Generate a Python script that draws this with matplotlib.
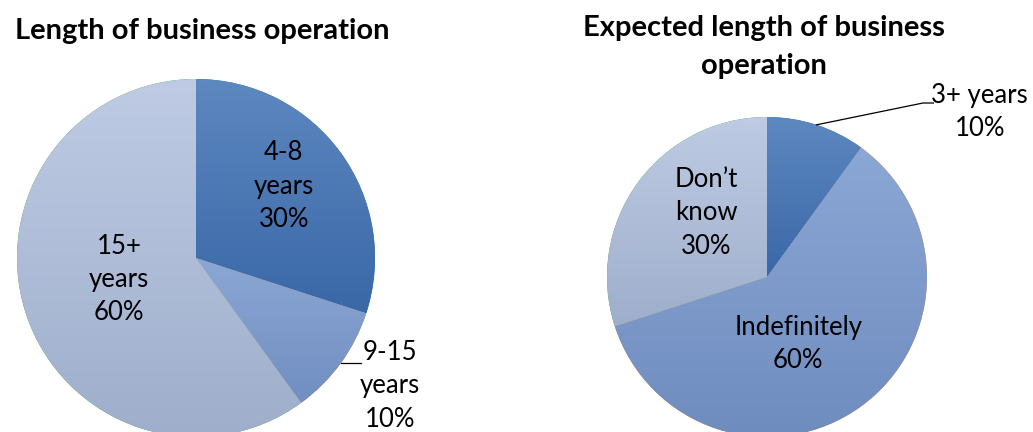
import numpy as np
import matplotlib
matplotlib.use("Agg")
import matplotlib.pyplot as plt
from matplotlib.colors import LinearSegmentedColormap

plt.rcParams['font.family'] = ['Lato', 'DejaVu Sans']

# data
left_labels = ["4-8\nyears", "9-15\nyears", "15+\nyears"]
left_vals = [30, 10, 60]
right_labels = ["3+ years", "Indefinitely", "Don’t\nknow"]
right_vals = [10, 60, 30]

left_title = "Length of business operation"
right_title = "Expected length of business\noperation"

# gradient colours (top, bottom) for each slice
left_grads = [("#5d88c0", "#3a67a7"), ("#8ba7d5", "#718ec1"), ("#bfcbe4", "#9eaecb")]
right_grads = [("#5d88c0", "#3a67a7"), ("#8ba7d5", "#6f8cbf"), ("#bfcbe4", "#9eaecb")]

W, H = 1033, 432
fig = plt.figure(figsize=(W / 100, H / 100), dpi=100)


def pie_axes(cx, cy, r):
    # pixel centre/radius -> axes rect
    return fig.add_axes([(cx - r) / W, (H - cy - r) / H, 2 * r / W, 2 * r / H])


def draw_pie(ax, vals, grads):
    wedges, _ = ax.pie(vals, startangle=90, counterclock=False, radius=1,
                       wedgeprops=dict(edgecolor='none', linewidth=0))
    for w, (c1, c2) in zip(wedges, grads):
        ext = w.get_path().get_extents()
        cmap = LinearSegmentedColormap.from_list("g", [c2, c1])
        grad = np.linspace(0, 1, 256).reshape(-1, 1)
        im = ax.imshow(grad, cmap=cmap, origin='lower', aspect='auto',
                       extent=[ext.x0, ext.x1, ext.y0, ext.y1], zorder=2,
                       interpolation='bilinear')
        im.set_clip_path(w)
    ax.set_xlim(-1, 1)
    ax.set_ylim(-1, 1)
    ax.set_aspect('equal')
    ax.axis('off')
    return wedges


def mid_point(w, r=1.0):
    a = np.deg2rad((w.theta1 + w.theta2) / 2)
    return r * np.cos(a), r * np.sin(a)


fs = 18.5
ls = 1.42

# left pie
ax1 = pie_axes(196, 258, 179)
wl = draw_pie(ax1, left_vals, left_grads)
ax1.text(0.49, 0.40, f"{left_labels[0]}\n{left_vals[0]}%", ha='center', va='center',
         fontsize=fs, linespacing=ls, zorder=5)
ax1.text(-0.43, -0.12, f"{left_labels[2]}\n{left_vals[2]}%", ha='center', va='center',
         fontsize=fs, linespacing=ls, zorder=5)
ex, ey = mid_point(wl[1])
ax1.plot([ex, 0.92], [ey, ey], color='black', lw=0.9, clip_on=False, zorder=5)
ax1.text(1.085, -0.715, f"{left_labels[1]}\n{left_vals[1]}%", ha='center', va='center',
         fontsize=fs, linespacing=ls, zorder=5)

# right pie
ax2 = pie_axes(767, 277, 160)
wr = draw_pie(ax2, right_vals, right_grads)
ax2.text(-0.38, 0.40, f"{right_labels[2]}\n{right_vals[2]}%", ha='center', va='center',
         fontsize=fs, linespacing=ls, zorder=5)
ax2.text(0.195, -0.42, f"{right_labels[1]}\n{right_vals[1]}%", ha='center', va='center',
         fontsize=fs, linespacing=ls, zorder=5)
ex, ey = mid_point(wr[0])
ax2.plot([ex, 0.975, 1.04], [ey, 1.0875, 1.0875], color='black', lw=0.9,
         clip_on=False, zorder=5)
ax2.text(1.33, 1.03, f"{right_labels[0]}\n{right_vals[0]}%", ha='center', va='center',
         fontsize=fs, linespacing=ls, zorder=5)

# titles
fig.text(202 / W, 1 - 31 / H, left_title, ha='center', va='center',
         fontsize=21, fontweight='bold')
fig.text(764 / W, 1 - 47 / H, right_title, ha='center', va='center',
         fontsize=21, fontweight='bold', linespacing=1.6)

fig.savefig("out.png", dpi=100)
